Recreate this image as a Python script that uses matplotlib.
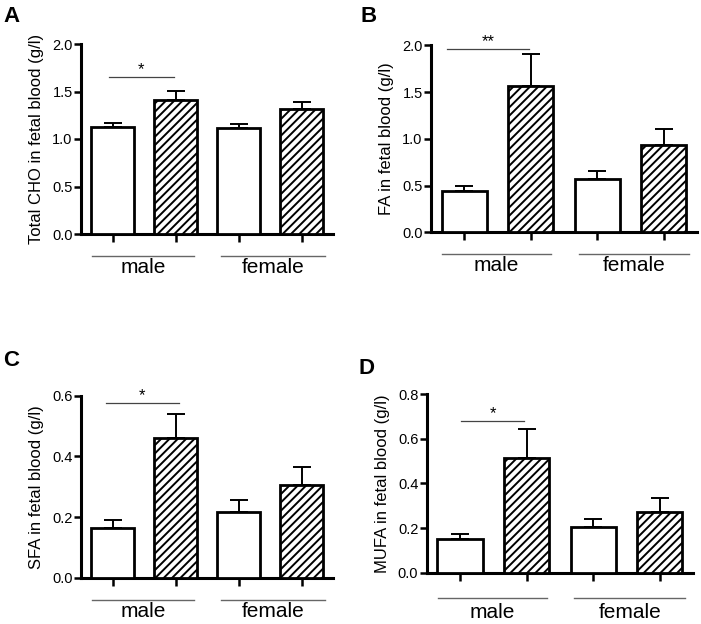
import matplotlib
matplotlib.use("Agg")
import matplotlib.pyplot as plt
import matplotlib.transforms as mtransforms

plt.rcParams['font.family'] = ['Liberation Sans', 'DejaVu Sans']
plt.rcParams['hatch.linewidth'] = 1.4

# data
groups = ['male', 'female']
letters = ['A', 'B', 'C', 'D']
ylabels = ['Total CHO in fetal blood (g/l)', 'FA in fetal blood (g/l)',
           'SFA in fetal blood (g/l)', 'MUFA in fetal blood (g/l)']
cho_mean = [1.13, 1.41, 1.12, 1.32]
cho_err = [0.04, 0.10, 0.04, 0.07]
fa_mean = [0.445, 1.57, 0.57, 0.93]
fa_err = [0.055, 0.34, 0.09, 0.18]
sfa_mean = [0.164, 0.46, 0.218, 0.305]
sfa_err = [0.025, 0.081, 0.038, 0.06]
mufa_mean = [0.151, 0.512, 0.206, 0.273]
mufa_err = [0.022, 0.13, 0.034, 0.063]
ymax = [2.0, 2.0, 0.6, 0.8]
ystep = [0.5, 0.5, 0.2, 0.2]
# significance bracket: (x start, x end, y, label)
sig = [(-0.05, 0.97, 1.65, '*'), (-0.26, 0.97, 1.96, '**'),
       (-0.11, 1.06, 0.575, '*'), (0.02, 0.96, 0.68, '*')]

means = [cho_mean, fa_mean, sfa_mean, mufa_mean]
errs = [cho_err, fa_err, sfa_err, mufa_err]

# axes placement in figure pixels (left, right, top, bottom)
W, H = 701, 624
boxes = [(81, 333, 44, 234), (431, 697, 45.3, 232.3),
         (81, 333, 395.7, 577.7), (426.7, 693, 394, 572.7)]
letter_xy = [(3, 22), (361, 22), (3, 366), (358, 374)]

fig = plt.figure(figsize=(W / 100, H / 100), dpi=100)

x = [0, 1, 2, 3]
for i in range(4):
    l, r, t, b = boxes[i]
    ax = fig.add_axes([l / W, 1 - b / H, (r - l) / W, (b - t) / H])
    ax.bar(x, means[i], width=0.68, color='white',
           edgecolor='black', linewidth=2,
           hatch=[None, '////', None, '////'], zorder=3)
    ax.errorbar(x, means[i], yerr=[[0, 0, 0, 0], errs[i]], fmt='none',
                ecolor='black', elinewidth=1.4, capsize=6.5, capthick=1.4, zorder=2)
    ax.set_xlim(-0.5, 3.5)
    ax.set_ylim(0, ymax[i])
    ticks = [k * ystep[i] for k in range(int(round(ymax[i] / ystep[i])) + 1)]
    ax.set_yticks(ticks)
    ax.set_yticklabels([f"{v:.1f}" for v in ticks], fontsize=10.5)
    ax.set_xticks(x)
    ax.set_xticklabels([])
    ax.tick_params(axis='y', direction='out', length=5, width=1.8, pad=1)
    ax.tick_params(axis='x', direction='out', length=6, width=1.8)
    for s in ['top', 'right']:
        ax.spines[s].set_visible(False)
    for s in ['left', 'bottom']:
        ax.spines[s].set_linewidth(2.2)
    ax.set_ylabel(ylabels[i], fontsize=12, labelpad=6)

    # significance line and stars
    x0, x1, ys, lab = sig[i]
    ax.plot([x0, x1], [ys, ys], color='#444444', linewidth=0.9, clip_on=False)
    ax.text((x0 + x1) / 2, ys, lab, ha='center', va='bottom', fontsize=12)

    # group lines and labels under the axis
    off_line = -22 if i != 3 else -25
    off_text = -39 if i != 3 else -45
    tl = mtransforms.offset_copy(ax.get_xaxis_transform(), fig=fig, y=off_line, units='dots')
    tt = mtransforms.offset_copy(ax.get_xaxis_transform(), fig=fig, y=off_text, units='dots')
    for g, (ga, gb) in zip(groups, [(-0.33, 1.3), (1.72, 3.38)]):
        ax.plot([ga, gb], [0, 0], color='#666666', linewidth=1, transform=tl, clip_on=False)
        ax.text((ga + gb) / 2, 0, g, ha='center', va='baseline', fontsize=15, transform=tt)

    fig.text(letter_xy[i][0] / W, 1 - letter_xy[i][1] / H, letters[i],
             fontsize=16, fontweight='bold', ha='left', va='baseline')

fig.savefig('out.png', dpi=100)
